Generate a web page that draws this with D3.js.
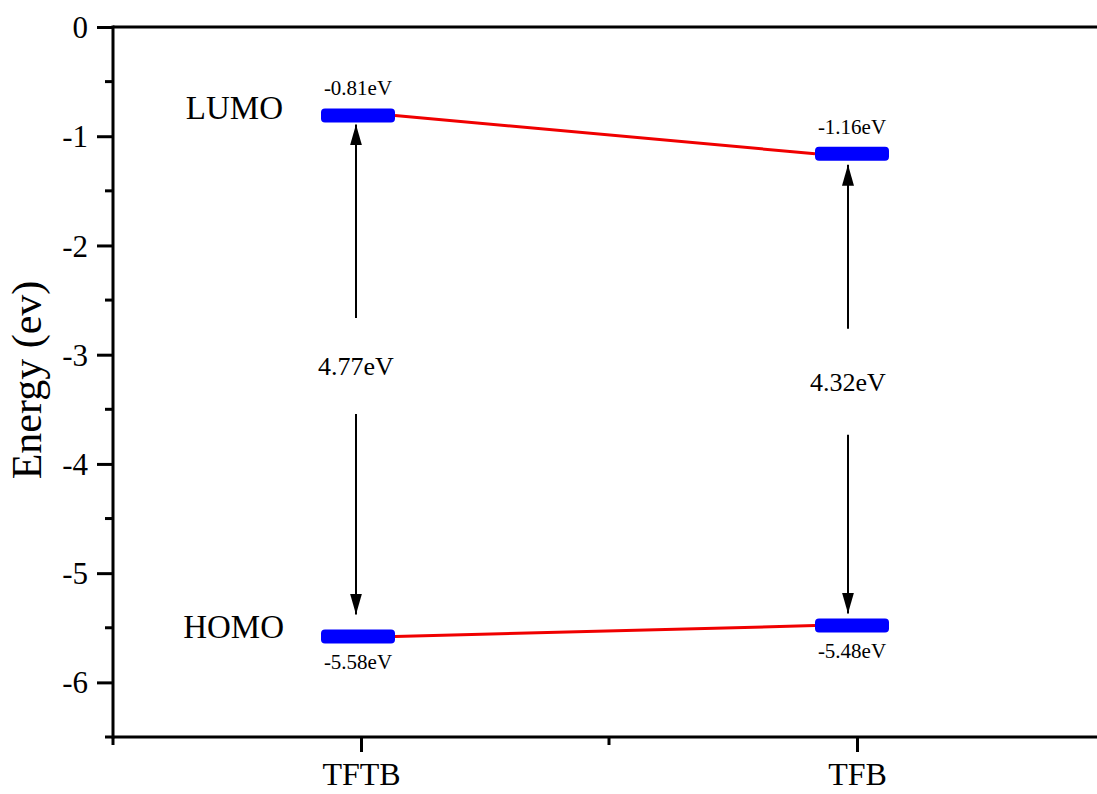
<!DOCTYPE html>
<html>
<head>
<meta charset="utf-8">
<script src="https://cdn.jsdelivr.net/npm/d3@7"></script>
<style>
  body { margin: 0; background: #fff; }
  text { font-family: "Liberation Serif", "Times New Roman", serif; fill: #000; }
</style>
</head>
<body>
<div id="chart"></div>
<script>
// data
const materials = ['TFTB', 'TFB']
const lumo = [-0.81, -1.16]
const homo = [-5.58, -5.48]
const gaps = [4.77, 4.32]
const levelNames = ['LUMO', 'HOMO']
const yTicks = [0, -1, -2, -3, -4, -5, -6]

const serif = '"Liberation Serif", "Times New Roman", serif'

const params = {
  width: 1097,
  height: 794,
  left: 113,
  right: 1105,
  top: 27,
  bottom: 737,
}

const svg = d3.select('#chart')
  .append('svg')
  .attr('width', params.width)
  .attr('height', params.height)

const x = d3.scaleLinear().domain([0.5, 2.5]).range([params.left, params.right])
const y = d3.scaleLinear().domain([0, -6.5]).range([params.top, params.bottom])

// y axis
const yAxis = d3.axisLeft(y)
  .tickValues(yTicks)
  .tickSize(16)
  .tickPadding(9)
  .tickFormat(d => d === 0 ? '0' : '-' + Math.abs(d))

const yg = svg.append('g')
  .attr('transform', `translate(${params.left},0)`)
  .call(yAxis)
  .attr('font-family', serif)
  .attr('font-size', 31)
yg.select('.domain').remove()
yg.selectAll('.tick line').attr('stroke', '#000').attr('stroke-width', 3)
yg.selectAll('.tick text').attr('dy', '0.34em')

// minor y ticks
svg.append('g').selectAll('line')
  .data(d3.range(-0.5, -6.6, -1))
  .join('line')
  .attr('x1', params.left - 8).attr('x2', params.left)
  .attr('y1', d => y(d)).attr('y2', d => y(d))
  .attr('stroke', '#000').attr('stroke-width', 3)

// x axis ticks
const xAxis = d3.axisBottom(x)
  .tickValues([1, 2])
  .tickSize(15)
  .tickPadding(10)
  .tickFormat((d, i) => materials[i])
const xg = svg.append('g')
  .attr('transform', `translate(0,${params.bottom})`)
  .call(xAxis)
  .attr('font-family', serif)
  .attr('font-size', 32)
xg.select('.domain').remove()
xg.selectAll('.tick line').attr('stroke', '#000').attr('stroke-width', 3)

svg.append('g').selectAll('line')
  .data([0.5, 1.5])
  .join('line')
  .attr('x1', d => x(d)).attr('x2', d => x(d))
  .attr('y1', params.bottom).attr('y2', params.bottom + 8)
  .attr('stroke', '#000').attr('stroke-width', 3)

// frame lines
svg.append('line')
  .attr('x1', params.left).attr('x2', params.left)
  .attr('y1', params.top - 1.5).attr('y2', params.bottom + 1.5)
  .attr('stroke', '#000').attr('stroke-width', 3)
svg.append('line')
  .attr('x1', params.left).attr('x2', params.width)
  .attr('y1', params.top).attr('y2', params.top)
  .attr('stroke', '#000').attr('stroke-width', 3)
svg.append('line')
  .attr('x1', params.left).attr('x2', params.width)
  .attr('y1', params.bottom).attr('y2', params.bottom)
  .attr('stroke', '#000').attr('stroke-width', 3)

// y title
svg.append('text')
  .attr('transform', `translate(41,380) rotate(-90)`)
  .attr('text-anchor', 'middle')
  .style('font-size', '42px')
  .text('Energy (ev)')

const barW = 74
const barH = 14
const barShift = [-3, -5]
const arrowShift = [-5, -9]
const cx = i => x(i + 1) + barShift[i]
const ax = i => x(i + 1) + arrowShift[i]

// arrow marker
svg.append('defs').append('marker')
  .attr('id', 'head')
  .attr('viewBox', '0 0 21 12')
  .attr('refX', 21)
  .attr('refY', 6)
  .attr('markerWidth', 21)
  .attr('markerHeight', 12)
  .attr('markerUnits', 'userSpaceOnUse')
  .attr('orient', 'auto')
  .append('path')
  .attr('d', 'M0,0 L21,6 L0,12 Z')
  .attr('fill', '#000')

// connecting red lines
const levels = [lumo, homo]
levels.forEach(vals => {
  svg.append('line')
    .attr('x1', cx(0) + barW / 2).attr('y1', y(vals[0]))
    .attr('x2', cx(1) - barW / 2).attr('y2', y(vals[1]))
    .attr('stroke', '#f00000').attr('stroke-width', 3)
})

// energy level bars
levels.forEach(vals => {
  svg.append('g').selectAll('rect')
    .data(vals)
    .join('rect')
    .attr('x', (d, i) => cx(i) - barW / 2)
    .attr('y', d => y(d) - barH / 2)
    .attr('width', barW)
    .attr('height', barH)
    .attr('rx', 4)
    .attr('fill', '#0000ff')
})

// value labels
svg.append('g').selectAll('text')
  .data(lumo)
  .join('text')
  .attr('x', (d, i) => cx(i))
  .attr('y', d => y(d) - 20)
  .attr('text-anchor', 'middle')
  .style('font-size', '21px')
  .text(d => d.toFixed(2) + 'eV')
svg.append('g').selectAll('text')
  .data(homo)
  .join('text')
  .attr('x', (d, i) => cx(i))
  .attr('y', d => y(d) + 32)
  .attr('text-anchor', 'middle')
  .style('font-size', '21px')
  .text(d => d.toFixed(2) + 'eV')

// level names
svg.append('text')
  .attr('x', cx(0) - barW / 2 - 38)
  .attr('y', y(lumo[0]) + 4)
  .attr('text-anchor', 'end')
  .style('font-size', '33px')
  .text(levelNames[0])
svg.append('text')
  .attr('x', cx(0) - barW / 2 - 37)
  .attr('y', y(homo[0]) + 1)
  .attr('text-anchor', 'end')
  .style('font-size', '33px')
  .text(levelNames[1])

// gap arrows and labels
const upGap = [9, 11]
const downGap = [22, 12]
gaps.forEach((g, i) => {
  const mid = y((lumo[i] + homo[i]) / 2) - 10 + i * 2
  svg.append('text')
    .attr('x', ax(i))
    .attr('y', mid + 9)
    .attr('text-anchor', 'middle')
    .style('font-size', '26px')
    .text(g.toFixed(2) + 'eV')
  const tail = 48 + i * 5
  svg.append('line')
    .attr('x1', ax(i)).attr('y1', mid - tail)
    .attr('x2', ax(i)).attr('y2', y(lumo[i]) + upGap[i])
    .attr('stroke', '#000').attr('stroke-width', 2)
    .attr('marker-end', 'url(#head)')
  svg.append('line')
    .attr('x1', ax(i)).attr('y1', mid + tail)
    .attr('x2', ax(i)).attr('y2', y(homo[i]) - downGap[i])
    .attr('stroke', '#000').attr('stroke-width', 2)
    .attr('marker-end', 'url(#head)')
})
</script>
</body>
</html>
